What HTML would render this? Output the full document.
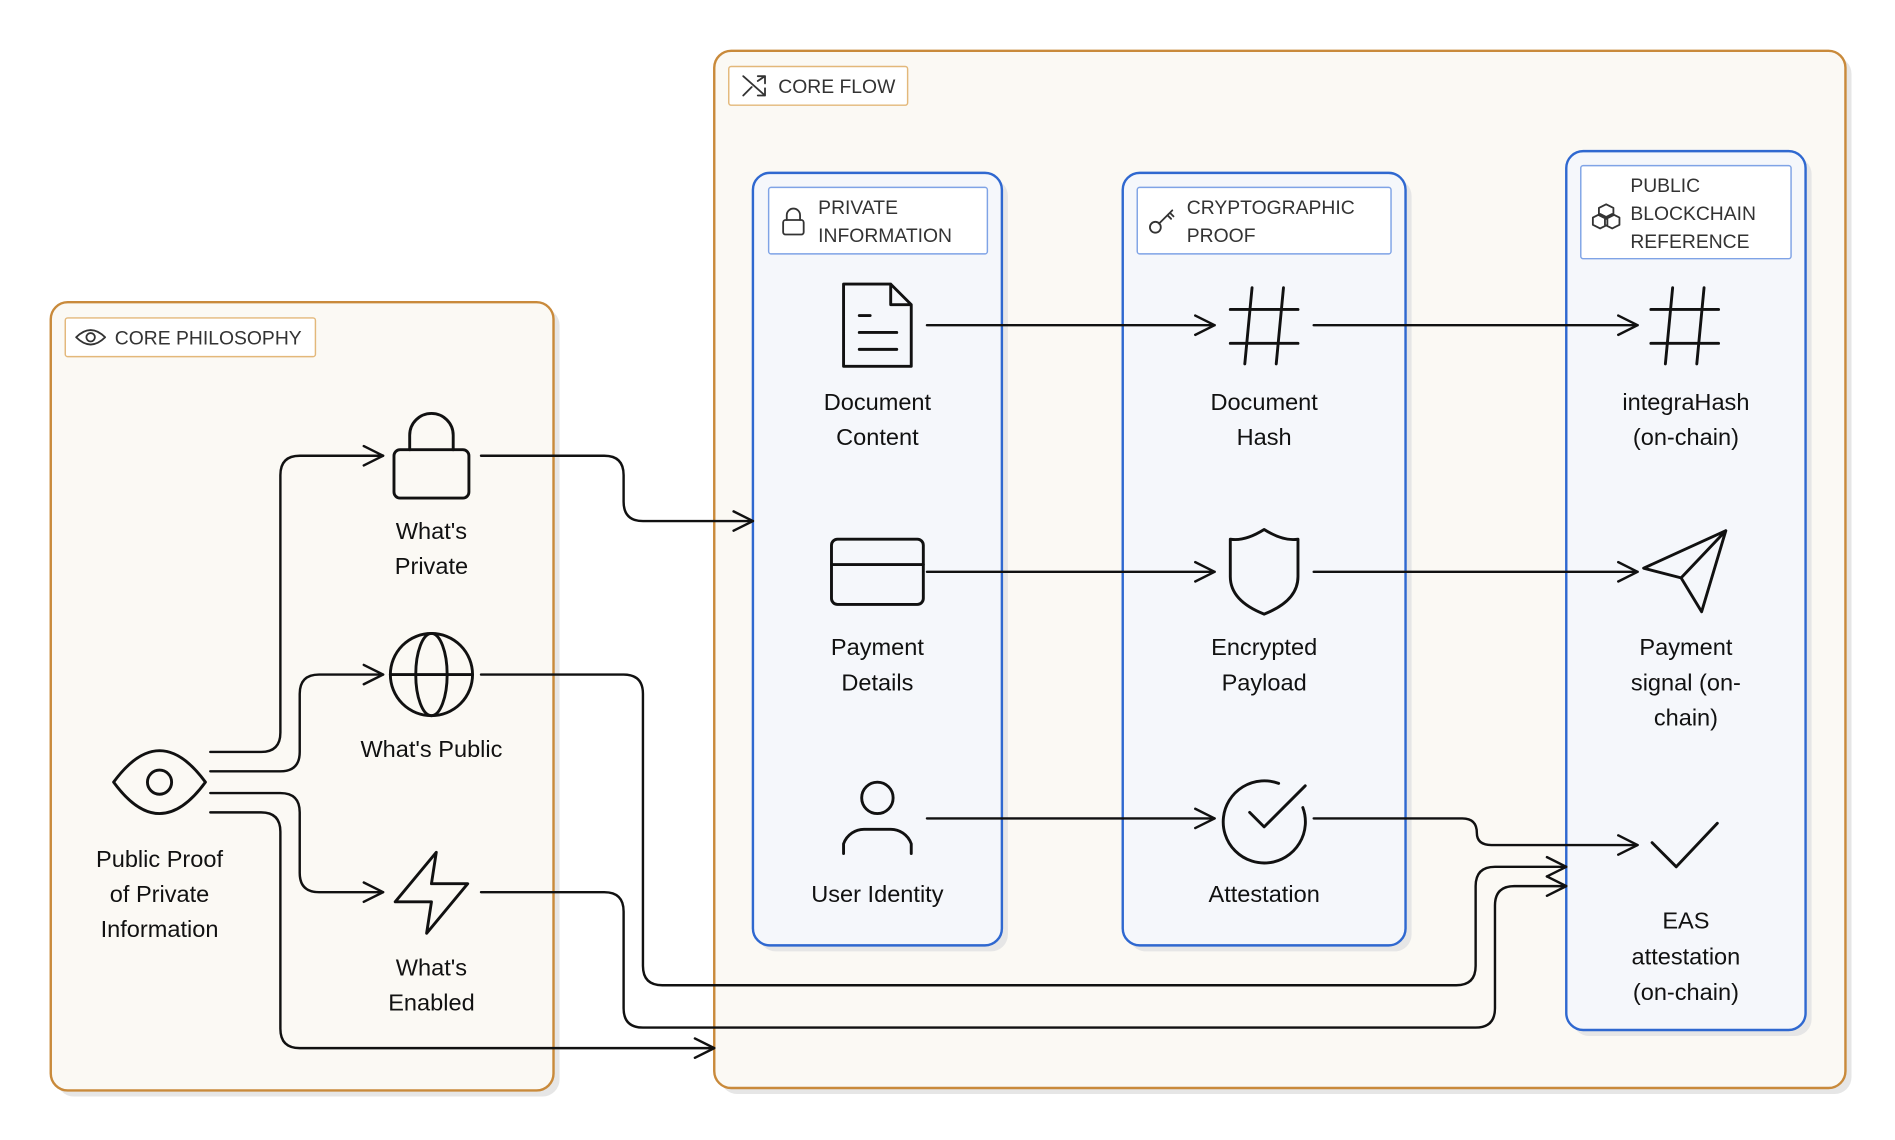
<!DOCTYPE html>
<html><head><meta charset="utf-8"><style>
html,body{margin:0;padding:0;background:#fff;}
svg{display:block;}
text{font-family:"Liberation Sans",sans-serif;fill:#111;}
.lbl{font-size:19.5px;text-anchor:middle;}
.hd{font-size:16px;fill:#333;}
.e{fill:none;stroke:#111;stroke-width:2;stroke-linejoin:round;stroke-linecap:round;}
.i{fill:none;stroke:#111;stroke-width:2.4;stroke-linejoin:round;stroke-linecap:round;}
.s{fill:none;stroke:#333;stroke-width:1.5;stroke-linejoin:round;stroke-linecap:round;}
</style></head><body>
<svg width="1895" height="1140" viewBox="0 0 1568 943" preserveAspectRatio="none" xmlns="http://www.w3.org/2000/svg">
<defs>
<marker id="a" viewBox="0 0 20 20" refX="18" refY="10" markerWidth="20" markerHeight="20" markerUnits="userSpaceOnUse" orient="auto">
<path d="M2,2 L18,10 L2,18" fill="none" stroke="#111" stroke-width="2" stroke-linejoin="round" stroke-linecap="round"/>
</marker>
</defs>
<!-- shadows -->
<rect x="47" y="255" width="416" height="652" rx="14" fill="#e6e6e6"/>
<rect x="596" y="47" width="936" height="858" rx="14" fill="#e6e6e6"/>
<!-- containers -->
<rect x="42" y="250" width="416" height="652" rx="14" fill="#fbf9f4" stroke="#c98a3b" stroke-width="2"/>
<rect x="591" y="42" width="936" height="858" rx="14" fill="#fbf9f4" stroke="#c98a3b" stroke-width="2"/>
<rect x="54" y="263" width="207" height="32" rx="2" fill="#fff" stroke="#e3b87a" stroke-width="1.2"/>
<rect x="603" y="55" width="148" height="32" rx="2" fill="#fff" stroke="#e3b87a" stroke-width="1.2"/>
<text x="95" y="285" class="hd">CORE PHILOSOPHY</text>
<text x="644" y="77" class="hd">CORE FLOW</text>
<!-- eye small -->
<path class="s" d="M63,279 Q75,267 87,279 Q75,291 63,279Z"/><circle class="s" cx="75" cy="279" r="3.5"/>
<!-- shuffle icon -->
<path class="s" d="M615,63 L633,79 M627,79 L633,79 L633,73 M615,79 L622,72 M627,67 L633,63 M627,63 L633,63 L633,69"/>
<!-- columns -->
<rect x="628" y="148" width="206" height="639" rx="14" fill="#e6e6e6"/>
<rect x="934" y="148" width="234" height="639" rx="14" fill="#e6e6e6"/>
<rect x="1301" y="130" width="198" height="727" rx="14" fill="#e6e6e6"/>
<rect x="623" y="143" width="206" height="639" rx="14" fill="#f5f7fb" stroke="#2f68d0" stroke-width="2"/>
<rect x="929" y="143" width="234" height="639" rx="14" fill="#f5f7fb" stroke="#2f68d0" stroke-width="2"/>
<rect x="1296" y="125" width="198" height="727" rx="14" fill="#f5f7fb" stroke="#2f68d0" stroke-width="2"/>
<rect x="636" y="155" width="181" height="55" rx="2" fill="#fff" stroke="#7fa3e6" stroke-width="1.2"/>
<rect x="941" y="155" width="210" height="55" rx="2" fill="#fff" stroke="#7fa3e6" stroke-width="1.2"/>
<rect x="1308" y="137" width="174" height="77" rx="2" fill="#fff" stroke="#7fa3e6" stroke-width="1.2"/>
<text x="677" y="177" class="hd">PRIVATE</text><text x="677" y="200" class="hd">INFORMATION</text>
<text x="982" y="177" class="hd">CRYPTOGRAPHIC</text><text x="982" y="200" class="hd">PROOF</text>
<text x="1349" y="159" class="hd">PUBLIC</text><text x="1349" y="182" class="hd">BLOCKCHAIN</text><text x="1349" y="205" class="hd">REFERENCE</text>
<!-- small icons in headers -->
<rect class="s" x="648" y="182" width="17" height="12" rx="2"/><path class="s" d="M651,182 V178 A5.5,5.5 0 0 1 662,178 V182"/>
<circle class="s" cx="956" cy="188" r="4.5"/><path class="s" d="M959,185 L970,174 M966,178 L969,181 M968,176 L971,179"/>
<path class="s" d="M1323,172 l6,-3 6,3 v6 l-6,3 -6,-3z M1318,180 l6,-3 6,3 v6 l-6,3 -6,-3z M1328,180 l6,-3 6,3 v6 l-6,3 -6,-3z"/>
<!-- big icons -->
<!-- eye -->
<path class="i" d="M94,647 Q132,595 170,647 Q132,699 94,647Z"/><circle class="i" cx="132" cy="647" r="10"/>
<!-- lock -->
<rect class="i" x="326" y="372" width="62" height="40" rx="5"/><path class="i" d="M339,372 V360 A18,18 0 0 1 375,360 V372"/>
<!-- globe -->
<circle class="i" cx="357" cy="558" r="34"/><ellipse class="i" cx="357" cy="558" rx="13" ry="34"/><path class="i" d="M323,558 H391"/>
<!-- zap -->
<path class="i" d="M361,705 L327,746 H357 L353,772 L387,731 H357 Z"/>
<!-- doc -->
<path class="i" d="M698,235 H737 L754,252 V303 H698 Z M737,235 V252 H754 M711,261 H720 M711,275 H742 M711,289 H742"/>
<!-- card -->
<rect class="i" x="688" y="446" width="76" height="54" rx="5"/><path class="i" d="M688,467 H764"/>
<!-- user -->
<circle class="i" cx="726" cy="660" r="13"/><path class="i" d="M698,706 V698 A18,18 0 0 1 716,686 H736 A18,18 0 0 1 754,698 V706"/>
<!-- hashes -->
<path class="i" d="M1018,256 H1074 M1018,284 H1074 M1036,238 L1030,301 M1062,238 L1056,301"/>
<path class="i" d="M1366,256 H1422 M1366,284 H1422 M1384,238 L1378,301 M1410,238 L1404,301"/>
<!-- shield -->
<path class="i" d="M1046,438 Q1062,448 1074,446 V477 Q1074,497 1046,508 Q1018,497 1018,477 V446 Q1030,448 1046,438Z"/>
<!-- check circle -->
<path class="i" d="M1078,668 A34,34 0 1 1 1058,648"/><path class="i" d="M1034,672 L1046,684 L1080,650"/>
<!-- send -->
<path class="i" d="M1428,439 L1360,470 L1391,478 L1408,506 Z M1391,478 L1428,439"/>
<!-- check -->
<path class="i" d="M1367,697 L1387,717 L1421,681"/>
<!-- labels -->
<text class="lbl" x="132" y="717">Public Proof</text><text class="lbl" x="132" y="746">of Private</text><text class="lbl" x="132" y="775">Information</text>
<text class="lbl" x="357" y="446">What's</text><text class="lbl" x="357" y="475">Private</text>
<text class="lbl" x="357" y="626">What's Public</text>
<text class="lbl" x="357" y="807">What's</text><text class="lbl" x="357" y="836">Enabled</text>
<text class="lbl" x="726" y="339">Document</text><text class="lbl" x="726" y="368">Content</text>
<text class="lbl" x="726" y="542">Payment</text><text class="lbl" x="726" y="571">Details</text>
<text class="lbl" x="726" y="746">User Identity</text>
<text class="lbl" x="1046" y="339">Document</text><text class="lbl" x="1046" y="368">Hash</text>
<text class="lbl" x="1046" y="542">Encrypted</text><text class="lbl" x="1046" y="571">Payload</text>
<text class="lbl" x="1046" y="746">Attestation</text>
<text class="lbl" x="1395" y="339">integraHash</text><text class="lbl" x="1395" y="368">(on-chain)</text>
<text class="lbl" x="1395" y="542">Payment</text><text class="lbl" x="1395" y="571">signal (on-</text><text class="lbl" x="1395" y="600">chain)</text>
<text class="lbl" x="1395" y="768">EAS</text><text class="lbl" x="1395" y="798">attestation</text><text class="lbl" x="1395" y="827">(on-chain)</text>
<!-- edges -->
<path class="e" marker-end="url(#a)" d="M767,269 H1005"/>
<path class="e" marker-end="url(#a)" d="M1087,269 H1355"/>
<path class="e" marker-end="url(#a)" d="M767,473 H1005"/>
<path class="e" marker-end="url(#a)" d="M1087,473 H1355"/>
<path class="e" marker-end="url(#a)" d="M767,677 H1005"/>
<path class="e" marker-end="url(#a)" d="M1087,677 H1210 Q1222,677 1222,689 Q1222,699 1234,699 H1355"/>
<path class="e" marker-end="url(#a)" d="M398,377 H500 Q516,377 516,393 V415 Q516,431 532,431 H623"/>
<path class="e" marker-end="url(#a)" d="M174,622 H216 Q232,622 232,606 V393 Q232,377 248,377 H317"/>
<path class="e" marker-end="url(#a)" d="M174,638 H232 Q248,638 248,622 V574 Q248,558 264,558 H317"/>
<path class="e" marker-end="url(#a)" d="M174,656 H232 Q248,656 248,672 V722 Q248,738 264,738 H317"/>
<path class="e" marker-end="url(#a)" d="M174,672 H216 Q232,672 232,688 V851 Q232,867 248,867 H591"/>
<path class="e" marker-end="url(#a)" d="M398,558 H516 Q532,558 532,574 V799 Q532,815 548,815 H1205 Q1221,815 1221,799 V733 Q1221,717 1237,717 H1296"/>
<path class="e" marker-end="url(#a)" d="M398,738 H500 Q516,738 516,754 V834 Q516,850 532,850 H1221 Q1237,850 1237,834 V749 Q1237,733 1253,733 H1296"/>
</svg>
</body></html>
